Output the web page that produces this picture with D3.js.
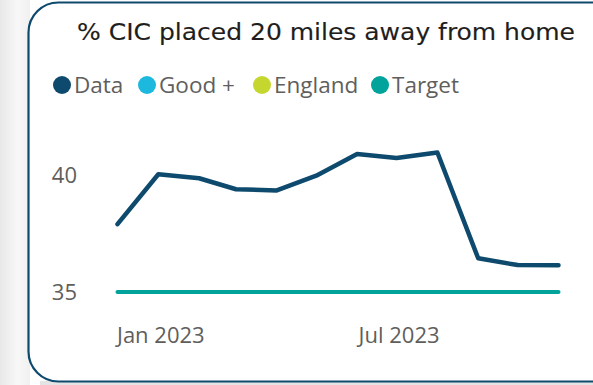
<!DOCTYPE html>
<html><head><meta charset="utf-8">
<script src="https://cdn.jsdelivr.net/npm/d3@7"></script>
<style>
html,body{margin:0;padding:0;background:#fff;overflow:hidden;}
svg{display:block;}
</style></head>
<body>
<svg id="chart" width="593" height="385"></svg>
<script>
const months = ["2022-12","2023-01","2023-02","2023-03","2023-04","2023-05","2023-06","2023-07","2023-08","2023-09","2023-10","2023-11"];
const dataValues = [37.9,40.03,39.86,39.39,39.34,39.97,40.9,40.73,40.96,36.44,36.15,36.14];
const targetValues = [35,35,35,35,35,35,35,35,35,35,35,35];
const yTicks = [35,40];
const xTickLabels = ["Jan 2023","Jul 2023"];
const xTickDates = ["2023-01","2023-07"];
const legendItems = ["Data","Good +","England","Target"];
const legendColors = ["#0E4A6E","#1CB8DE","#C5D62E","#01A39A"];
const title = "% CIC placed 20 miles away from home";

const parse = d3.timeParse("%Y-%m");
const svg = d3.select("#chart");
const W = 593, H = 385;
const FONT = "'Open Sans','Noto Sans',sans-serif";

// background shadow
const defs = svg.append("defs");
const g1 = defs.append("linearGradient").attr("id","lg").attr("x1",0).attr("x2",1).attr("y1",0).attr("y2",0);
g1.append("stop").attr("offset",0).attr("stop-color","#e8e8e8");
g1.append("stop").attr("offset",0.6).attr("stop-color","#f8f8f8");
g1.append("stop").attr("offset",1).attr("stop-color","#f0f0f0");
svg.append("rect").attr("x",0).attr("y",0).attr("width",30).attr("height",H).attr("fill","url(#lg)");
svg.append("rect").attr("x",40).attr("y",381).attr("width",W-40).attr("height",4).attr("fill","#e4e4e4");

// card
svg.append("rect").attr("x",28.5).attr("y",2.5).attr("width",W+40).attr("height",379)
  .attr("rx",30).attr("ry",30).attr("fill","#fff").attr("stroke","#0E4A6E").attr("stroke-width",2.2);

// title
svg.append("text").attr("x",326).attr("y",40).attr("text-anchor","middle")
  .style("font-family","'DejaVu Sans Condensed','DejaVu Sans',sans-serif").style("font-size","23px")
  .attr("fill","#1f1e1d").attr("stroke","#1f1e1d").attr("stroke-width",0.12)
  .attr("textLength",498).attr("lengthAdjust","spacingAndGlyphs").text(title);

// legend
const legX = [62,147,262,380];
legendItems.forEach((t,i)=>{
  svg.append("circle").attr("cx",legX[i]).attr("cy",85).attr("r",9).attr("fill",legendColors[i]);
  svg.append("text").attr("x",legX[i]+12).attr("y",93).style("font-family",FONT)
    .style("font-size","22.5px").attr("fill","#605E5C").text(t);
});

const x = d3.scaleTime().domain([parse(months[0]), parse(months[months.length-1])]).range([117.5,558.5]);
const y = d3.scaleLinear().domain([35,40]).range([292,175]);

// y axis
const yAxis = d3.axisLeft(y).tickValues(yTicks).tickSize(0).tickPadding(0).tickFormat(d3.format("d"));
const ya = svg.append("g").attr("transform","translate(77,0)").call(yAxis)
  .attr("font-family",FONT).attr("font-size",22);
ya.select(".domain").remove();
ya.selectAll("text").attr("fill","#605E5C").attr("dy","0.36em");

// x axis
const xAxis = d3.axisBottom(x).tickValues(xTickDates.map(parse)).tickSize(0).tickPadding(0)
  .tickFormat((d,i)=>xTickLabels[i]);
const xa = svg.append("g").attr("transform","translate(2,327)").call(xAxis)
  .attr("font-family",FONT).attr("font-size",22);
xa.select(".domain").remove();
xa.selectAll("text").attr("fill","#605E5C");

// lines
const line = d3.line().x((d,i)=>x(parse(months[i]))).y(d=>y(d));
svg.append("path").datum(targetValues).attr("d",line).attr("fill","none")
  .attr("stroke",legendColors[3]).attr("stroke-width",4).attr("stroke-linecap","round");
svg.append("path").datum(dataValues).attr("d",line).attr("fill","none")
  .attr("stroke",legendColors[0]).attr("stroke-width",4.5).attr("stroke-linecap","round").attr("stroke-linejoin","round");
</script>
</body></html>
